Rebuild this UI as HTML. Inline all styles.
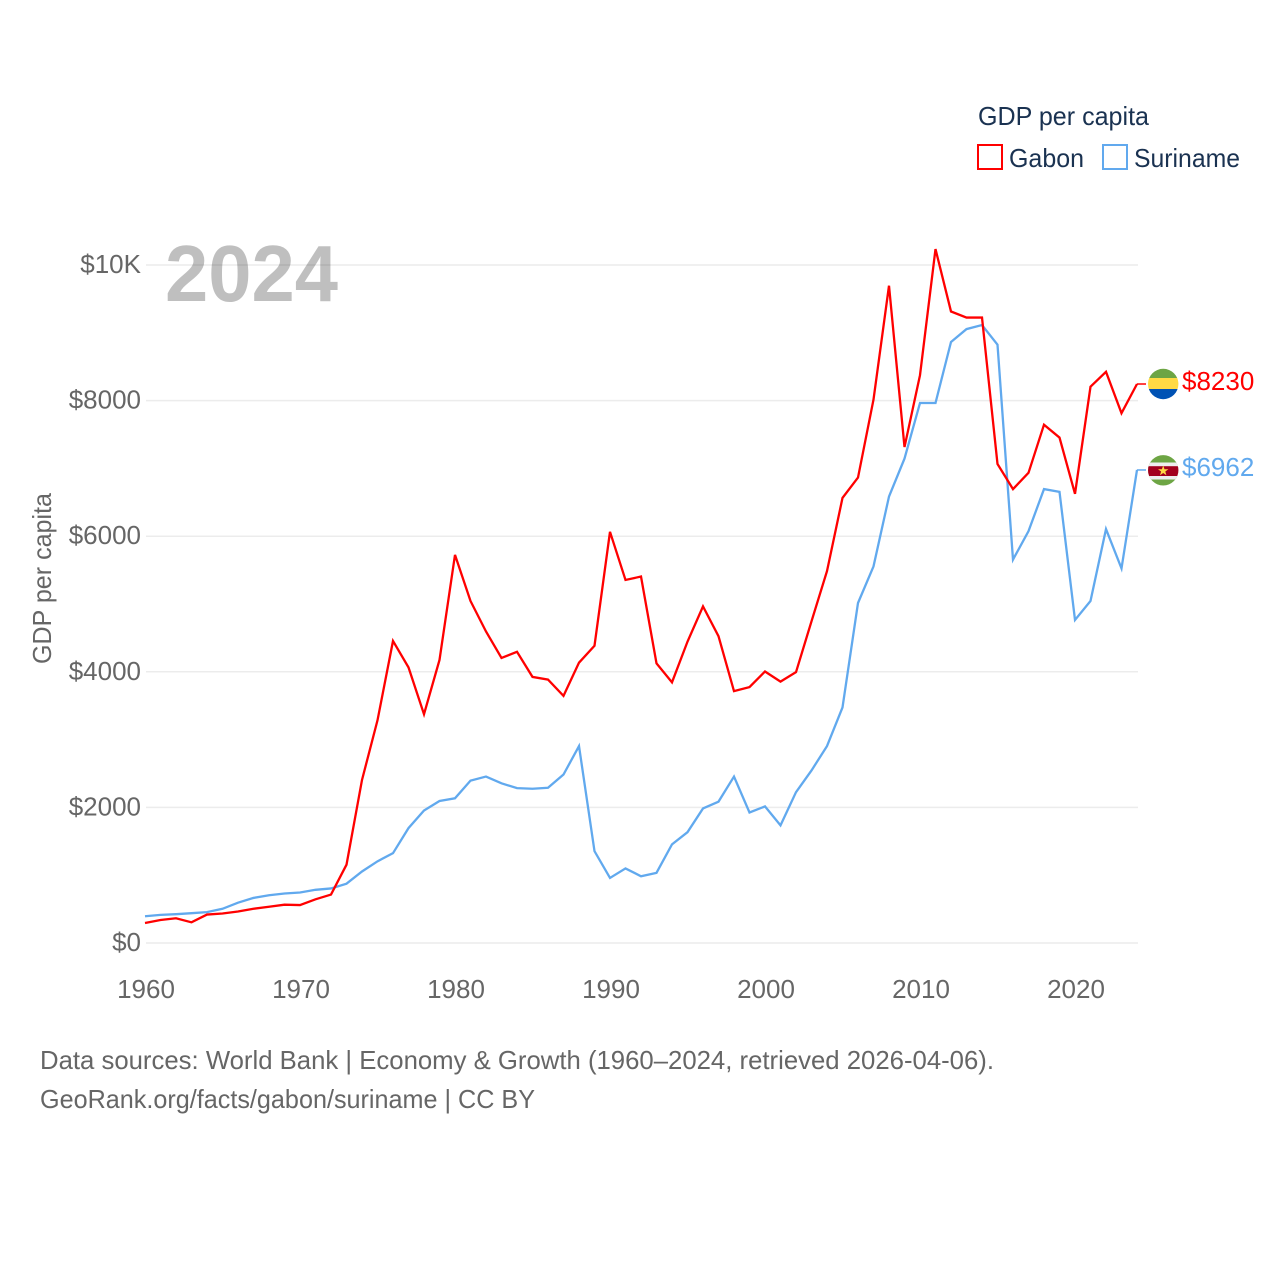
<!DOCTYPE html>
<html lang="en">
<head>
<meta charset="utf-8">
<title>GDP per capita: Gabon and Suriname</title>
<style>
html,body{margin:0;padding:0;background:#fff;}
svg{display:block;font-family:"Liberation Sans",sans-serif;}
</style>
</head>
<body>
<svg id="chart" width="1280" height="1280" viewBox="0 0 1280 1280" xmlns="http://www.w3.org/2000/svg">
  <defs>
    <clipPath id="flag-clip-a"><circle cx="1163.2" cy="384" r="15.2"/></clipPath>
    <clipPath id="flag-clip-b"><circle cx="1163.2" cy="470.3" r="15.2"/></clipPath>
  </defs>
  <rect width="1280" height="1280" fill="#ffffff"/>
  <g id="grid"></g>
  <g id="y-ticks"></g>
  <g id="x-ticks"></g>
  <text transform="translate(51,578.5) rotate(-90)" text-anchor="middle" font-size="26" fill="#666666" textLength="171" lengthAdjust="spacingAndGlyphs">GDP per capita</text>
  <text x="165" y="301" font-size="80" font-weight="700" fill="#000000" fill-opacity="0.25" textLength="173" lengthAdjust="spacingAndGlyphs">2024</text>
  <g id="series"></g>

  <g>
    <text x="978" y="125" font-size="26" fill="#1a3251" textLength="171" lengthAdjust="spacingAndGlyphs">GDP per capita</text>
    <g>
      <rect x="978" y="145" width="24" height="24" fill="none" stroke="#ff0000" stroke-width="2"/>
      <text x="1009" y="167" font-size="26" fill="#1a3251" textLength="75" lengthAdjust="spacingAndGlyphs">Gabon</text>
    </g>
    <g>
      <rect x="1103" y="145" width="24" height="24" fill="none" stroke="#61a9ee" stroke-width="2"/>
      <text x="1134" y="167" font-size="26" fill="#1a3251" textLength="106" lengthAdjust="spacingAndGlyphs">Suriname</text>
    </g>
  </g>

  <g clip-path="url(#flag-clip-a)">
    <rect x="1147" y="368" width="32" height="10.2" fill="#6da544"/>
    <rect x="1147" y="378" width="32" height="11" fill="#ffda44"/>
    <rect x="1147" y="389" width="32" height="11" fill="#0052b4"/>
  </g>
  <g clip-path="url(#flag-clip-b)">
    <rect x="1147" y="455" width="32" height="32" fill="#6da544"/>
    <rect x="1147" y="462.5" width="32" height="17" fill="#eeeeee"/>
    <rect x="1147" y="466.2" width="32" height="9.8" fill="#a2001d"/>
    <polygon points="1163.2,465.5 1164.5,469.2 1168.4,469.2 1165.3,471.5 1166.4,475.2 1163.2,473 1160,475.2 1161.1,471.5 1158,469.2 1161.9,469.2" fill="#ffda44"/>
  </g>
  <g id="end-labels"></g>

  <g>
    <text x="40" y="1069" font-size="26" fill="#666666" textLength="954" lengthAdjust="spacingAndGlyphs">Data sources: World Bank | Economy &amp; Growth (1960–2024, retrieved 2026-04-06).</text>
    <text x="40" y="1108" font-size="26" fill="#666666" textLength="495" lengthAdjust="spacingAndGlyphs">GeoRank.org/facts/gabon/suriname | CC BY</text>
  </g>
</svg>
<script>
const years = [1960,1961,1962,1963,1964,1965,1966,1967,1968,1969,1970,1971,1972,1973,1974,1975,1976,1977,1978,1979,1980,1981,1982,1983,1984,1985,1986,1987,1988,1989,1990,1991,1992,1993,1994,1995,1996,1997,1998,1999,2000,2001,2002,2003,2004,2005,2006,2007,2008,2009,2010,2011,2012,2013,2014,2015,2016,2017,2018,2019,2020,2021,2022,2023,2024];
const gabonValues = [280,325,350,290,405,420,450,490,520,550,545,630,700,1140,2390,3270,4440,4050,3360,4160,5710,5030,4580,4190,4280,3910,3870,3630,4120,4370,6050,5340,5390,4110,3830,4430,4950,4510,3700,3760,3990,3840,3980,4730,5470,6550,6850,8000,9680,7300,8360,10220,9300,9210,9210,7050,6680,6920,7630,7440,6610,8190,8410,7800,8230];
const surinameValues = [380,400,410,425,440,490,580,650,690,715,730,770,790,860,1040,1190,1310,1680,1940,2080,2120,2380,2440,2340,2270,2260,2275,2470,2890,1340,945,1085,970,1020,1440,1620,1970,2070,2440,1910,2000,1720,2210,2530,2890,3460,5000,5540,6570,7130,7950,7950,8850,9040,9100,8810,5640,6060,6680,6640,4750,5030,6090,5510,6962];
const yTickValues = [0,2000,4000,6000,8000,10000];
const yTickLabels = ["$0","$2000","$4000","$6000","$8000","$10K"];
const xTickValues = [1960,1970,1980,1990,2000,2010,2020];

const NS = "http://www.w3.org/2000/svg";
const plotLeft = 146, plotRight = 1138, plotBottom = 943, plotTop = 265;
function xScale(v){ return plotLeft + (v - 1960) / (2024 - 1960) * (plotRight - plotLeft); }
function yScale(v){ return plotBottom - v / 10000 * (plotBottom - plotTop); }
function lineX(v){ return xScale(v) - 1; }
function lineY(v){ return yScale(v) - 1; }
function make(tag, attrs, parent, text){
  const el = document.createElementNS(NS, tag);
  for (const k in attrs) el.setAttribute(k, attrs[k]);
  if (text !== undefined) el.textContent = text;
  parent.appendChild(el);
  return el;
}

const gridG = document.getElementById("grid");
const yG = document.getElementById("y-ticks");
yTickValues.forEach(function(v, i){
  const line = make("line", {x1: plotLeft, x2: plotRight, y1: yScale(v), y2: yScale(v), stroke: "#ececec", "stroke-width": 1.5}, gridG);
  
  
  const label = make("text", {x: 141, y: yScale(v) + 8, "text-anchor": "end", "font-size": 26, fill: "#666666"}, yG, yTickLabels[i]);
  
  
});

const xG = document.getElementById("x-ticks");
xTickValues.forEach(function(v){
  const label = make("text", {x: xScale(v), y: 998, "text-anchor": "middle", "font-size": 26, fill: "#666666"}, xG, String(v));
  
  
});

const seriesG = document.getElementById("series");
const labelsG = document.getElementById("end-labels");
function drawSeries(values, color, seriesName, connectorName, labelName){
  const pts = values.map(function(v, i){ return lineX(years[i]) + "," + lineY(v); }).join(" ");
  const line = make("polyline", {points: pts, fill: "none", stroke: color, "stroke-width": 2.3, "stroke-linejoin": "miter"}, seriesG);
  
  
  const last = values[values.length - 1];
  const endY = lineY(last);
  const connector = make("line", {x1: plotRight - 1, x2: 1146, y1: endY, y2: endY, stroke: color, "stroke-width": 1.5}, seriesG);
  
  
  const label = make("text", {x: 1182, y: endY + 6, "font-size": 26, fill: color}, labelsG, "$" + last);
  
  
}
drawSeries(surinameValues, "#61a9ee", "suriname-line", "suriname-connector", "suriname-end-label");
drawSeries(gabonValues, "#ff0000", "gabon-line", "gabon-connector", "gabon-end-label");
</script>
</body>
</html>
